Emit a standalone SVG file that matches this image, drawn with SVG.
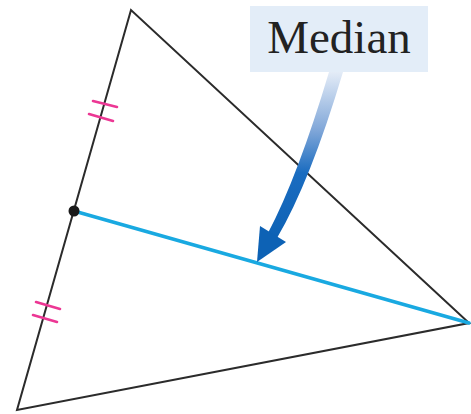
<svg xmlns="http://www.w3.org/2000/svg" width="471" height="414" viewBox="0 0 471 414">
<style>
.tri{fill:none;stroke:#2b2b2b;stroke-width:2;stroke-linejoin:miter}
.tick{stroke:#ec3794;stroke-width:2.6;stroke-linecap:round}
.med{stroke:#19a9e1;stroke-width:3.4;stroke-linecap:round}
.lbl{font-family:"Liberation Serif","Times New Roman",serif;font-size:47px;fill:#222}
</style>
<defs>
<linearGradient id="ag" x1="0" y1="72" x2="0" y2="240" gradientUnits="userSpaceOnUse">
<stop offset="0" stop-color="#e4ecf7"/>
<stop offset="0.35" stop-color="#7fa6d8"/>
<stop offset="0.6" stop-color="#1a6cc0"/>
<stop offset="1" stop-color="#0d62b5"/>
</linearGradient>
</defs>
<g id="triangle">
<polygon class="tri" points="131,10 17,410 469,323"/>
</g>
<g id="connectors">
<line id="median" class="med" x1="74" y1="211" x2="469" y2="323"/>
<g id="ticks">
<line class="tick" x1="93" y1="101" x2="117" y2="107"/>
<line class="tick" x1="89" y1="114" x2="113" y2="121"/>
<line class="tick" x1="36" y1="302" x2="60" y2="309"/>
<line class="tick" x1="33" y1="315" x2="57" y2="322"/>
</g>
<g id="arrow">
<path d="M329,72 Q298,176 268,233 L277,238 Q310,182 343,72 Z" fill="url(#ag)"/>
<polygon points="260,226 257,262 286,242" fill="#0d62b5"/>
</g>
</g>
<g id="midpoint">
<circle cx="74" cy="211" r="5.5" fill="#1a1a1a"/>
</g>
<g id="label">
<rect x="250" y="6" width="178" height="66" fill="#e3edf8"/>
<text class="lbl" x="339" y="53" text-anchor="middle">Median</text>
</g>
</svg>
